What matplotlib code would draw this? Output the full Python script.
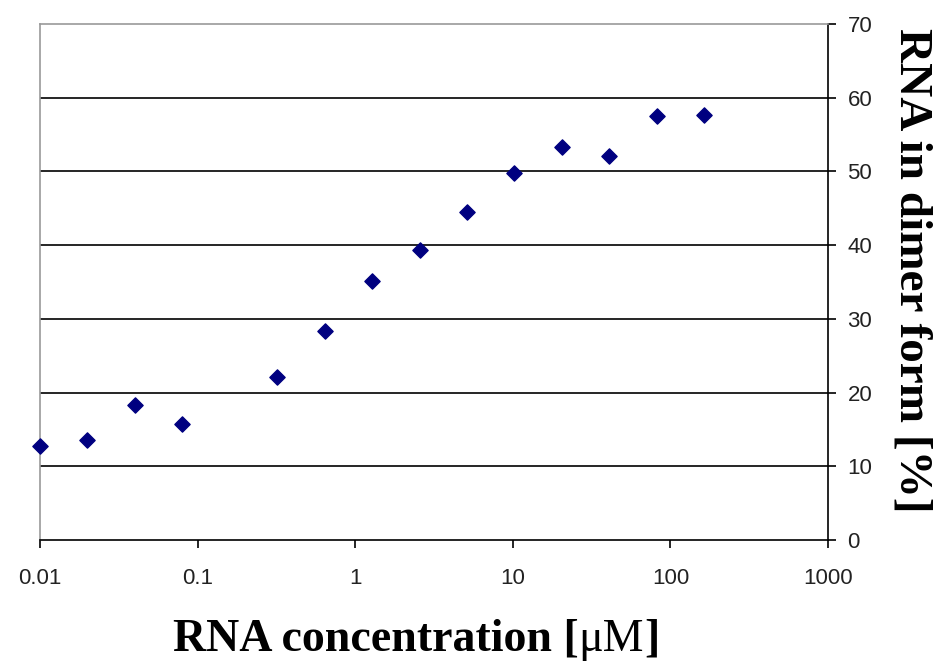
import matplotlib.pyplot as plt

# concentration series (2-fold dilutions) and dimer fraction
conc = [0.01, 0.02, 0.04, 0.08, 0.32, 0.64, 1.28, 2.56, 5.12,
        10.24, 20.48, 40.96, 81.92, 163.84]
dimer = [12.8, 13.6, 18.3, 15.8, 22.1, 28.3, 35.1, 39.4, 44.5,
         49.8, 53.3, 52.1, 57.5, 57.7]

x_ticks = [0.01, 0.1, 1, 10, 100, 1000]
x_labels = ['0.01', '0.1', '1', '10', '100', '1000']
y_ticks = [0, 10, 20, 30, 40, 50, 60, 70]

fig = plt.figure(figsize=(9.38, 6.68), dpi=100)
ax = fig.add_axes([40 / 938, 128 / 668, 788 / 938, 516 / 668])

ax.scatter(conc, dimer, marker='D', s=60, color='#000080', zorder=3,
           clip_on=False)

ax.set_xscale('log')
ax.set_xlim(0.01, 1000)
ax.set_ylim(0, 70)
ax.set_xticks(x_ticks)
ax.set_xticklabels(x_labels)
ax.minorticks_off()
ax.set_yticks(y_ticks)

# horizontal grid lines
for v in y_ticks[1:-1]:
    ax.axhline(v, color='black', lw=1.2, zorder=1)

ax.yaxis.tick_right()
for s in ['left', 'top']:
    ax.spines[s].set_color('#999999')
    ax.spines[s].set_linewidth(1.2)
for s in ['bottom', 'right']:
    ax.spines[s].set_color('black')
    ax.spines[s].set_linewidth(1.2)

ax.tick_params(axis='both', direction='out', length=6, width=1.2,
               labelsize=16, colors='black')
ax.tick_params(axis='x', pad=14)
ax.tick_params(axis='y', pad=8)
for lab in ax.get_xticklabels() + ax.get_yticklabels():
    lab.set_family('Liberation Sans')
    lab.set_color('#222222')

# x label: bold text with a lighter "μM" as in the original
fig.canvas.draw()
r = fig.canvas.get_renderer()
parts = [('RNA concentration [', 'bold'), ('μM', 'normal'), (']', 'bold')]
texts = []
for s, w in parts:
    texts.append(fig.text(0, 0.043, s, ha='left', va='center',
                          family='Liberation Serif', weight=w, fontsize=33))
widths = [t.get_window_extent(r).width for t in texts]
x0 = 416 - sum(widths) / 2
for t, w in zip(texts, widths):
    t.set_x(x0 / 938)
    x0 += w

fig.text(0.972, 0.596, 'RNA in dimer form [%]', ha='center', va='center',
         rotation=-90, family='Liberation Serif', weight='bold', fontsize=34)

plt.savefig('out.png', dpi=100)
